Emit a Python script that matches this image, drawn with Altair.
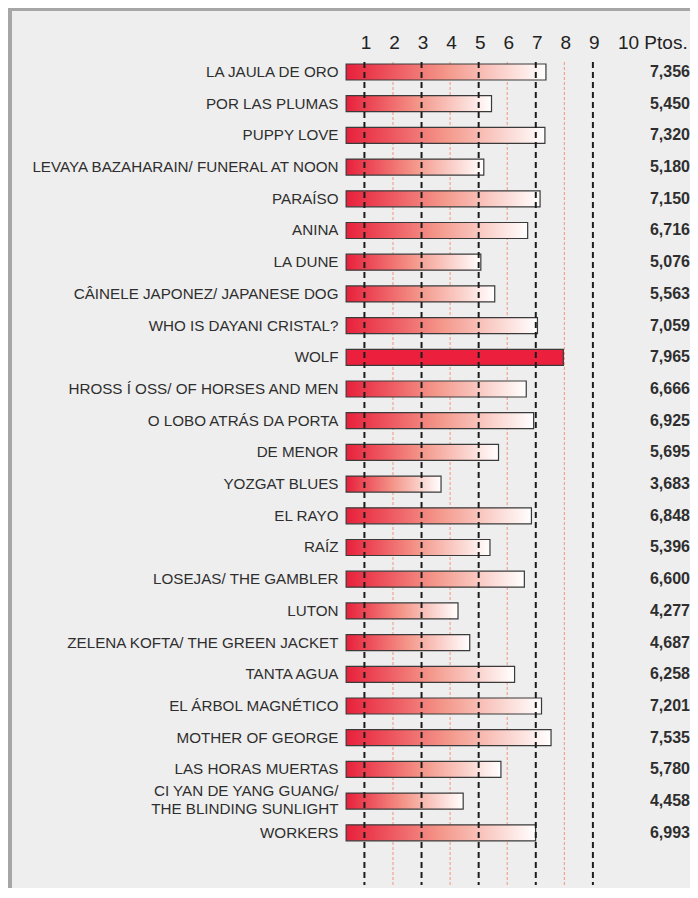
import altair as alt
import pandas as pd

titles = [
    "LA JAULA DE ORO",
    "POR LAS PLUMAS",
    "PUPPY LOVE",
    "LEVAYA BAZAHARAIN/ FUNERAL AT NOON",
    "PARAÍSO",
    "ANINA",
    "LA DUNE",
    "CÂINELE JAPONEZ/ JAPANESE DOG",
    "WHO IS DAYANI CRISTAL?",
    "WOLF",
    "HROSS Í OSS/ OF HORSES AND MEN",
    "O LOBO ATRÁS DA PORTA",
    "DE MENOR",
    "YOZGAT BLUES",
    "EL RAYO",
    "RAÍZ",
    "LOSEJAS/ THE GAMBLER",
    "LUTON",
    "ZELENA KOFTA/ THE GREEN JACKET",
    "TANTA AGUA",
    "EL ÁRBOL MAGNÉTICO",
    "MOTHER OF GEORGE",
    "LAS HORAS MUERTAS",
    "CI YAN DE YANG GUANG/\nTHE BLINDING SUNLIGHT",
    "WORKERS",
]
scores = [7.356, 5.450, 7.320, 5.180, 7.150, 6.716, 5.076, 5.563, 7.059, 7.965,
          6.666, 6.925, 5.695, 3.683, 6.848, 5.396, 6.600, 4.277, 4.687, 6.258,
          7.201, 7.535, 5.780, 4.458, 6.993]
highlight = "WOLF"
black_lines = [1, 3, 5, 7, 9]
red_lines = [2, 4, 6, 8]
axis_values = [1, 2, 3, 4, 5, 6, 7, 8, 9, 10]

FONT = "Liberation Sans, Arial, sans-serif"
TXT = "#2e2e2e"

df = pd.DataFrame({"title": titles, "score": scores})
df_black = pd.DataFrame({"v": black_lines})
df_red = pd.DataFrame({"v": red_lines})
df_one = pd.DataFrame({"k": [0]})

xscale = alt.Scale(domain=[0.18, 12.4], zero=False, nice=False)
yscale = alt.Scale(paddingInner=0.49527, paddingOuter=0.72876, align=0.0433)

y_axis = alt.Axis(
    title=None, domain=False, ticks=False, labelPadding=3,
    labelFont=FONT, labelFontSize=15.2, labelColor=TXT,
    labelLimit=600, labelLineHeight=18,
    labelExpr="split(datum.label, '\\n')",
    labelOffset={"condition": {"test": "indexof(datum.label, '\\n') >= 0",
                               "value": -10},
                 "value": 0},
)
x_axis = alt.Axis(
    orient="top", values=axis_values, title=None, domain=False, ticks=False,
    grid=False, labelFont=FONT, labelFontSize=19, labelColor="#222222",
    labelPadding=10,
    labelExpr="datum.value == 10 ? '10 Ptos.' : datum.label",
    labelAlign={"condition": {"test": "datum.value == 10", "value": "left"},
                "value": "center"},
    labelOffset={"condition": {"test": "datum.value == 10", "value": -4},
                 "value": 1},
)
y_enc = alt.Y("title:N", sort=titles, scale=yscale, axis=y_axis)

grad = alt.Gradient(
    gradient="linear",
    stops=[alt.GradientStop(color="#e8203b", offset=0),
           alt.GradientStop(color="#f4978a", offset=0.5),
           alt.GradientStop(color="#ffffff", offset=1)],
    x1=0, x2=1, y1=0, y2=0,
)

red_rules = alt.Chart(df_red).mark_rule(
    color="#f2957f", strokeWidth=1, strokeDash=[3, 2]
).encode(x=alt.X("v:Q", scale=xscale, axis=x_axis))

bars = alt.Chart(df).transform_filter(
    alt.datum.title != highlight
).mark_bar(fill=grad, stroke="#3a3a3a", strokeWidth=1.2).encode(
    x=alt.X("score:Q", scale=xscale, axis=x_axis),
    x2=alt.datum(0.36),
    y=y_enc,
)

hbar = alt.Chart(df).transform_filter(
    alt.datum.title == highlight
).mark_bar(fill="#ec1f3d", stroke="#3a3a3a", strokeWidth=1.2).encode(
    x=alt.X("score:Q", scale=xscale, axis=x_axis),
    x2=alt.datum(0.36),
    y=y_enc,
)

black_rules = alt.Chart(df_black).mark_rule(
    color="#1c1c1c", strokeWidth=2, strokeDash=[6, 4]
).encode(x=alt.X("v:Q", scale=xscale, axis=x_axis))

values = alt.Chart(df).transform_calculate(
    label="replace(format(datum.score, '.3f'), '.', ',')"
).mark_text(
    align="right", baseline="middle", font=FONT, fontSize=16,
    fontWeight="bold", color=TXT
).encode(
    x=alt.XDatum(12.4, scale=xscale, axis=x_axis),
    y=y_enc,
    text="label:N",
)

border_top = alt.Chart(df_one).mark_rule(color="#a6a6a6", strokeWidth=3).encode(
    x=alt.value(-333), x2=alt.value(349), y=alt.value(-52.5)
)
border_left = alt.Chart(df_one).mark_rule(color="#a6a6a6", strokeWidth=4).encode(
    x=alt.value(-331), y=alt.value(-54), y2=alt.value(826)
)

chart = alt.layer(
    border_top, border_left, red_rules, bars, hbar, black_rules, values
).properties(
    width=349, height=823, background="#eeeeee",
    padding={"left": 333, "top": 54, "right": 0, "bottom": 3},
    autosize=alt.AutoSizeParams(type="none"),
).configure_view(stroke=None)

chart.save("out.html", embed_options={"renderer": "svg", "actions": False})
